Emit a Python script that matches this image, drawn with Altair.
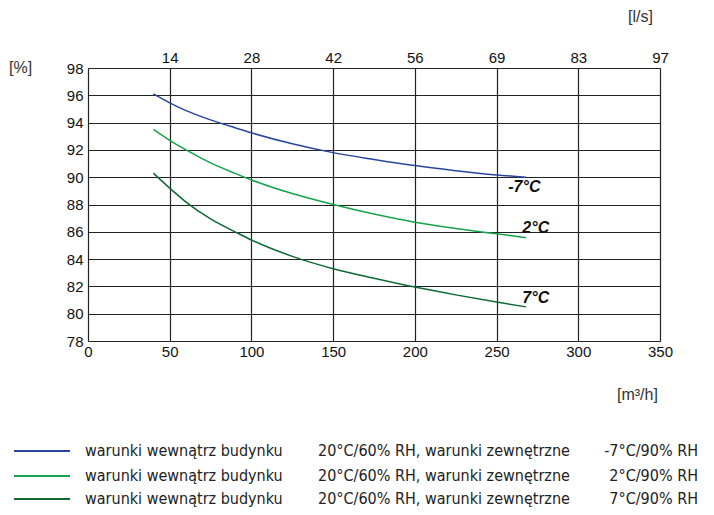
import altair as alt
import pandas as pd

# ---- data ----
flow_m3h = [40, 50, 60, 75, 90, 100, 125, 150, 175, 200, 225, 250, 268]
eff_m7 = [96.1, 95.45, 94.88, 94.2, 93.62, 93.25, 92.45, 91.8, 91.3, 90.85, 90.48, 90.17, 90.0]
eff_p2 = [93.5, 92.7, 92.0, 91.05, 90.28, 89.8, 88.8, 88.0, 87.3, 86.7, 86.25, 85.85, 85.57]
eff_p7 = [90.3, 89.2, 88.18, 86.95, 86.0, 85.4, 84.2, 83.3, 82.6, 81.95, 81.38, 80.85, 80.5]
series_names = ["-7°C", "2°C", "7°C"]
series_colors = ["#2846a0", "#16a34a", "#0e6a32"]

x_ticks = [0, 50, 100, 150, 200, 250, 300, 350]
top_ticks = [50, 100, 150, 200, 250, 300, 350]
top_labels = ["14", "28", "42", "56", "69", "83", "97"]
y_ticks = [78, 80, 82, 84, 86, 88, 90, 92, 94, 96, 98]

label_text = ["-7°C", "2°C", "7°C"]
label_x = [267, 274, 274]
label_y = [89.3, 86.25, 81.15]

legend_col1 = ["warunki wewnątrz budynku"] * 3
legend_col2 = ["20°C/60% RH, warunki zewnętrzne"] * 3
legend_col3 = ["-7°C/90% RH", "2°C/90% RH", "7°C/90% RH"]

# ---- tables ----
rows = []
for name, vals in zip(series_names, [eff_m7, eff_p2, eff_p7]):
    for f, v in zip(flow_m3h, vals):
        rows.append({"flow": f, "eff": v, "series": name})
df = pd.DataFrame(rows)
lab_df = pd.DataFrame({"t": label_text, "x": label_x, "y": label_y})

W, H = 572, 273
FONT = "Liberation Sans"
NARROW = "Liberation Sans Narrow, DejaVu Sans Condensed, Liberation Sans"

color_scale = alt.Scale(domain=series_names, range=series_colors)
xs = alt.Scale(domain=[0, 350], nice=False)
ys = alt.Scale(domain=[78, 98], nice=False)

y_axis = alt.Axis(values=y_ticks, title=None, grid=True, gridColor="#222",
                  gridOpacity=1, gridWidth=1.2, domain=False, ticks=False,
                  labelFont=FONT, labelFontSize=15, labelColor="#111",
                  labelPadding=5, labelFlush=False)

label_expr = " : ".join(
    f"datum.value == {v} ? '{l}'" for v, l in zip(top_ticks, top_labels)
) + " : ''"

lines = alt.Chart(df).mark_line(strokeWidth=1.5, interpolate="monotone").encode(
    x=alt.X("flow:Q", scale=xs,
            axis=alt.Axis(values=x_ticks, title=None, grid=True, gridColor="#222",
                          gridOpacity=1, gridWidth=1.2, domain=False, ticks=False,
                          labelFont=FONT, labelFontSize=15, labelColor="#111",
                          labelPadding=3, labelFlush=False)),
    y=alt.Y("eff:Q", scale=ys, axis=y_axis),
    color=alt.Color("series:N", scale=color_scale, legend=None),
    detail="series:N",
)

top_axis = alt.Chart(df).mark_line(opacity=0).encode(
    x=alt.X("flow:Q", scale=xs,
            axis=alt.Axis(orient="top", values=top_ticks, labelExpr=label_expr,
                          title=None, grid=False, domain=False, ticks=False,
                          labelFont=FONT, labelFontSize=15, labelColor="#111",
                          labelPadding=3, labelFlush=False)),
    y=alt.Y("eff:Q", scale=ys, axis=y_axis),
)

labels = alt.Chart(lab_df).mark_text(
    font=FONT, fontSize=16, fontWeight="bold", fontStyle="italic", color="#111"
).encode(
    x=alt.X("x:Q", scale=xs, axis=None), y=alt.Y("y:Q", scale=ys, axis=y_axis), text="t:N"
)


def unit_text(t, px, py):
    return alt.Chart(pd.DataFrame({"t": [t]})).mark_text(
        font=FONT, fontSize=16, color="#333", align="left"
    ).encode(x=alt.value(px), y=alt.value(py), text="t:N")


units = [unit_text("[%]", -79, 0), unit_text("[l/s]", 540, -51),
         unit_text("[m³/h]", 529, 327)]

legend_rows_y = [383, 408, 431]
legend_layers = []
for i in range(3):
    row_df = pd.DataFrame({"series": [series_names[i]], "c1": [legend_col1[i]],
                           "c2": [legend_col2[i]], "c3": [legend_col3[i]]})
    base = alt.Chart(row_df)
    py = legend_rows_y[i]
    legend_layers.append(base.mark_rule(strokeWidth=2).encode(
        x=alt.value(14 - 88), x2=alt.value(70 - 88), y=alt.value(py),
        color=alt.Color("series:N", scale=color_scale, legend=None)))
    legend_layers.append(base.mark_text(font=NARROW, fontSize=16, color="#222", align="left")
                         .encode(x=alt.value(85 - 88), y=alt.value(py), text="c1:N"))
    legend_layers.append(base.mark_text(font=NARROW, fontSize=16, color="#222", align="left")
                         .encode(x=alt.value(318 - 88), y=alt.value(py), text="c2:N"))
    legend_layers.append(base.mark_text(font=NARROW, fontSize=16, color="#222", align="right")
                         .encode(x=alt.value(698 - 88), y=alt.value(py), text="c3:N"))

chart = alt.layer(
    lines, top_axis, labels, *units, *legend_layers
).resolve_axis(x="independent").properties(
    width=W, height=H,
    autosize=alt.AutoSizeParams(type="none"),
    padding={"left": 88, "top": 68, "right": 54, "bottom": 174},
).configure_view(stroke="#111", strokeWidth=1.5).configure(background="white")

chart.save("out.html", embed_options={"renderer": "svg", "actions": False})
